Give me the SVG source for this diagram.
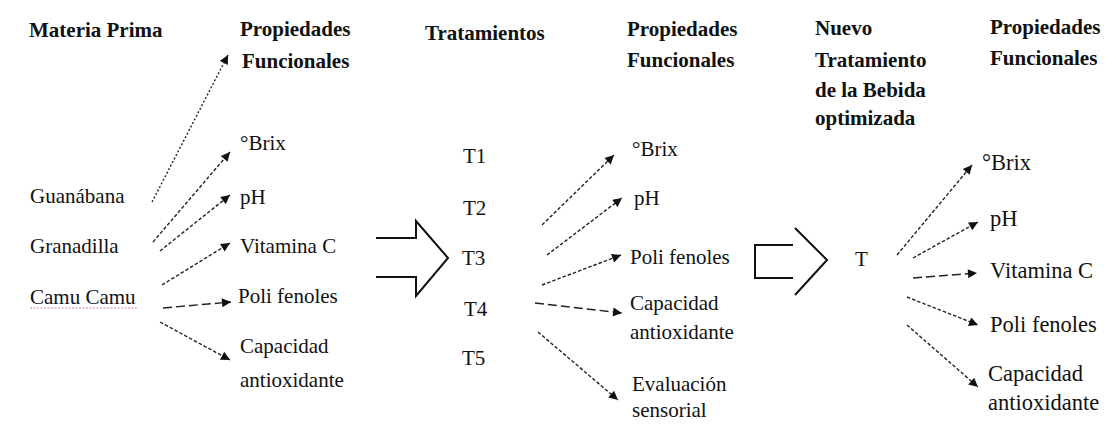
<svg xmlns="http://www.w3.org/2000/svg" width="1117" height="433" viewBox="0 0 1117 433">
<style>
text{font-family:"Liberation Serif","Times New Roman",serif;fill:#111}
.h{font-size:21px;font-weight:bold}
.t{font-size:21px}
.r{font-size:22.5px}
.c{stroke:#222;stroke-width:1.4;fill:none}
.dot{stroke-dasharray:2 2}
.sd{stroke-dasharray:3.5 2}
.ld{stroke-dasharray:9 4}
.blk{stroke:#111;stroke-width:2;fill:none}
</style>
<defs>
<marker id="ah" viewBox="0 0 10 10" refX="10" refY="5" markerWidth="11" markerHeight="9" markerUnits="userSpaceOnUse" orient="auto">
<path d="M0,0 L10,5 L0,10 Z" fill="#111"/>
</marker>
</defs>
<rect width="1117" height="433" fill="#fff"/>

<g id="headers">
<text class="h" x="29" y="37">Materia Prima</text>
<text class="h" x="240" y="36">Propiedades</text>
<text class="h" x="242" y="68">Funcionales</text>
<text class="h" x="425" y="40">Tratamientos</text>
<text class="h" x="627" y="36">Propiedades</text>
<text class="h" x="627" y="67">Funcionales</text>
<text class="h" x="815" y="35">Nuevo</text>
<text class="h" x="815" y="67">Tratamiento</text>
<text class="h" x="815" y="97">de la Bebida</text>
<text class="h" x="815" y="125">optimizada</text>
<text class="h" x="990" y="34">Propiedades</text>
<text class="h" x="990" y="65">Funcionales</text>
</g>

<g id="materia-prima">
<text class="t" x="30" y="203">Guanábana</text>
<text class="t" x="30" y="253">Granadilla</text>
<text class="t" x="30" y="304">Camu Camu</text>
<path d="M30,308 L138,308" stroke="#d88" stroke-width="1" stroke-dasharray="2 1.5" fill="none"/>
</g>

<g id="prop-1">
<text class="t" x="240" y="150">°Brix</text>
<text class="t" x="240" y="204">pH</text>
<text class="t" x="240" y="253">Vitamina C</text>
<text class="t" x="238" y="303">Poli fenoles</text>
<text class="t" x="240" y="353">Capacidad</text>
<text class="t" x="240" y="387">antioxidante</text>
</g>

<g id="tratamientos">
<text class="t" x="463" y="163">T1</text>
<text class="t" x="463" y="215">T2</text>
<text class="t" x="462" y="265">T3</text>
<text class="t" x="464" y="316">T4</text>
<text class="t" x="462" y="365">T5</text>
</g>

<g id="prop-2">
<text class="t" x="632" y="156">°Brix</text>
<text class="t" x="634" y="205">pH</text>
<text class="t" x="630" y="264">Poli fenoles</text>
<text class="t" x="630" y="310">Capacidad</text>
<text class="t" x="630" y="339">antioxidante</text>
<text class="t" x="632" y="391">Evaluación</text>
<text class="t" x="632" y="417">sensorial</text>
</g>

<g id="nuevo-t">
<text class="t" x="855" y="266">T</text>
</g>

<g id="prop-3">
<text class="r" x="982" y="170">°Brix</text>
<text class="r" x="990" y="226">pH</text>
<text class="r" x="990" y="278">Vitamina C</text>
<text class="r" x="990" y="332">Poli fenoles</text>
<text class="r" x="988" y="381">Capacidad</text>
<text class="r" x="988" y="410">antioxidante</text>
</g>

<g id="block-arrow-1">
<path class="blk" d="M376,238 H416 V221 L448,258 L416,296 V277 H376"/>
</g>
<g id="block-arrow-2">
<path class="blk" d="M793,245 H755 V278 H793"/>
<path class="blk" d="M795,228 L827,260 L795,295"/>
</g>

<g id="connectors">
<line class="c dot" x1="152" y1="202" x2="228" y2="55" marker-end="url(#ah)"/>
<line class="c sd" x1="153" y1="242" x2="230" y2="152" marker-end="url(#ah)"/>
<line class="c sd" x1="160" y1="251" x2="230" y2="195" marker-end="url(#ah)"/>
<line class="c sd" x1="162" y1="285" x2="230" y2="243" marker-end="url(#ah)"/>
<line class="c ld" x1="163" y1="308" x2="231" y2="302" marker-end="url(#ah)"/>
<line class="c sd" x1="160" y1="322" x2="230" y2="360" marker-end="url(#ah)"/>

<line class="c sd" x1="542" y1="225" x2="614" y2="155" marker-end="url(#ah)"/>
<line class="c sd" x1="547" y1="255" x2="622" y2="198" marker-end="url(#ah)"/>
<line class="c sd" x1="542" y1="285" x2="621" y2="255" marker-end="url(#ah)"/>
<line class="c ld" x1="535" y1="303" x2="622" y2="313" marker-end="url(#ah)"/>
<line class="c sd" x1="538" y1="332" x2="618" y2="400" marker-end="url(#ah)"/>

<line class="c sd" x1="897" y1="255" x2="972" y2="165" marker-end="url(#ah)"/>
<line class="c sd" x1="913" y1="258" x2="978" y2="222" marker-end="url(#ah)"/>
<line class="c ld" x1="913" y1="278" x2="977" y2="273" marker-end="url(#ah)"/>
<line class="c sd" x1="907" y1="297" x2="978" y2="325" marker-end="url(#ah)"/>
<line class="c sd" x1="907" y1="325" x2="978" y2="387" marker-end="url(#ah)"/>
</g>
</svg>
